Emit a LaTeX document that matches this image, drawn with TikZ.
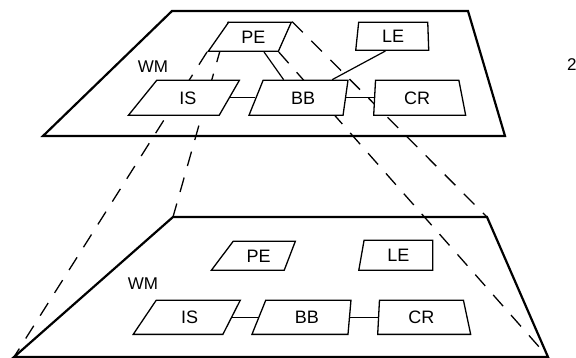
\documentclass[tikz,border=0pt]{standalone}
\usepackage{fontspec}
\setmainfont{Liberation Sans}
\usetikzlibrary{shapes.geometric,backgrounds}

\begin{document}
\begin{tikzpicture}[x=1pt,y=1pt,yscale=-1,xscale=1,
  plane/.style={line width=2.2pt, line join=miter},
  wmbox/.style={draw, fill=white, line width=1.3pt, trapezium, trapezium stretches body, inner xsep=0pt, text height=13pt, text depth=0pt, font=\fontsize{18}{18}\selectfont},
  proj/.style={line width=1.3pt, dash pattern=on 15pt off 12pt},
  link/.style={line width=1.2pt},
  lbl/.style={inner sep=0pt, font=\fontsize{17}{17}\selectfont}]
\useasboundingbox (0,0) rectangle (576,358);

%Upper plane
\coordinate (utl) at (172,11);
\coordinate (utr) at (468,11);
\coordinate (ubr) at (505,136);
\coordinate (ubl) at (43,136);
\draw[plane] (utl) -- (utr) -- (ubr) -- (ubl) -- cycle;
%Lower plane
\coordinate (ltl) at (173,217);
\coordinate (ltr) at (487,217);
\coordinate (lbr) at (548,357);
\coordinate (lbl) at (14,357);
\draw[plane] (ltl) -- (ltr) -- (lbr) -- (lbl) -- cycle;

%Upper boxes
\node[wmbox, trapezium left angle=55, trapezium right angle=114, inner ysep=8pt, minimum width=83pt, anchor=bottom left corner] (PE) at (207,52) {PE};
\node[wmbox, trapezium left angle=84, trapezium right angle=88, inner ysep=7.5pt, minimum width=73pt, anchor=bottom left corner] (LE) at (355,51) {LE};
\node[wmbox, trapezium left angle=51, trapezium right angle=120, inner ysep=11pt, minimum width=111pt, anchor=bottom left corner] (IS) at (127,116) {IS};
\node[wmbox, trapezium left angle=68, trapezium right angle=98, inner ysep=11pt, minimum width=99pt, anchor=bottom left corner] (BB) at (248,116) {BB};
\node[wmbox, trapezium left angle=87, trapezium right angle=79, inner ysep=11pt, minimum width=92pt, anchor=bottom left corner] (CR) at (373,116) {CR};

%Lower boxes
\node[wmbox, trapezium left angle=53, trapezium right angle=111, inner ysep=8pt, minimum width=84pt, anchor=bottom left corner] (PE2) at (210,271) {PE};
\node[wmbox, trapezium left angle=80, trapezium right angle=90, inner ysep=8.5pt, minimum width=74pt, anchor=bottom left corner] (LE2) at (358,271) {LE};
\node[wmbox, trapezium left angle=56, trapezium right angle=117, inner ysep=10.5pt, minimum width=107pt, anchor=bottom left corner] (IS2) at (132,335) {IS};
\node[wmbox, trapezium left angle=68, trapezium right angle=95, inner ysep=10.5pt, minimum width=99pt, anchor=bottom left corner] (BB2) at (251,335) {BB};
\node[wmbox, trapezium left angle=87, trapezium right angle=78, inner ysep=10.5pt, minimum width=93pt, anchor=bottom left corner] (CR2) at (377,335) {CR};

% Text Node
\node[lbl] (wm) at (153,67) {WM};
% Text Node
\node[lbl] (wm2) at (143,284) {WM};
% Text Node
\node[lbl, anchor=west] (pg) at (567,65) {2};

%Links
\draw[link] (IS.right side) -- (BB.left side);
\draw[link] (BB.right side) -- (CR.left side);
\draw[link] (PE.-55) -- (BB.137);
\draw[link] (LE.-118) -- (BB.32);
\draw[link] (IS2.right side) -- (BB2.left side);
\draw[link] (BB2.right side) -- (CR2.left side);

%Projection lines
\begin{scope}[on background layer]
\draw[proj] (PE.top left corner) -- (ltl);
\draw[proj] (PE.bottom left corner) -- (lbl);
\draw[proj] (PE.top right corner) -- (ltr);
\draw[proj] (PE.bottom right corner) -- (lbr);
\end{scope}

\end{tikzpicture}
\end{document}
